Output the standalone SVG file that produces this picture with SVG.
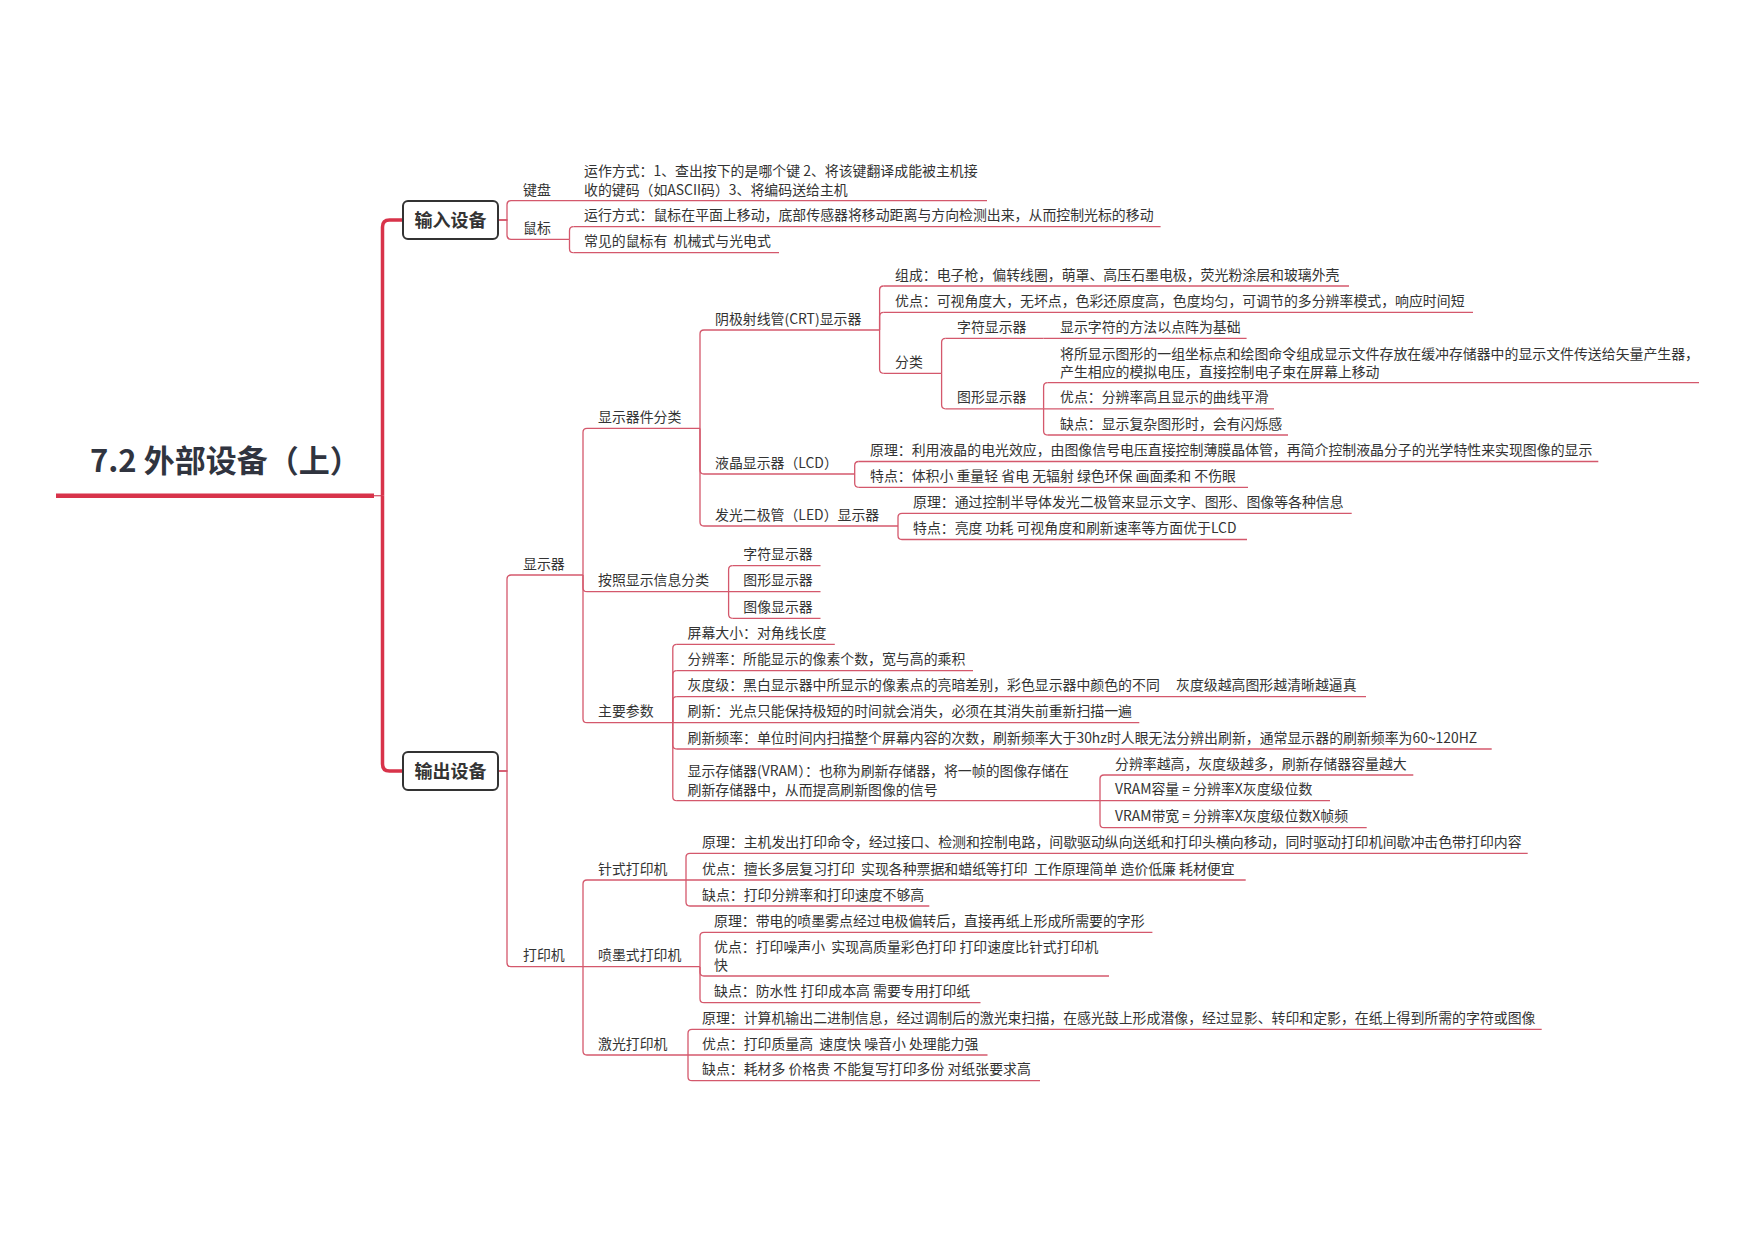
<svg xmlns="http://www.w3.org/2000/svg" width="1755" height="1240" viewBox="0 0 1755 1240">
<style>
.t{font-family:"Noto Sans CJK SC","Noto Sans",sans-serif;font-size:13.9px;fill:#333;white-space:pre}
.ln{stroke:#D4586C;stroke-width:1.3;fill:none}
.trunk{stroke:#D8334A;stroke-width:3.5;fill:none}
.box{fill:#fff;stroke:#333;stroke-width:2}
.bt{font-family:"Noto Sans CJK SC","Noto Sans",sans-serif;font-size:18px;font-weight:bold;fill:#333;text-anchor:middle}
.title{font-family:"Noto Sans CJK SC","Noto Sans",sans-serif;font-size:31px;font-weight:bold;fill:#30343F;white-space:pre}
</style>
<rect width="1755" height="1240" fill="#fff"/>
<g id="connectors">
<path class="ln" d="M374 495.7H382.5"/>
<path class="trunk" d="M382.5 495.7V227Q382.5 220 389.5 220H403"/>
<path class="trunk" d="M382.5 495.7V764Q382.5 771 389.5 771H403"/>
<path class="ln" d="M498 220H507V204.7Q507 200.7 511 200.7"/>
<path class="ln" d="M498 220H507V235.3Q507 239.3 511 239.3"/>
<path class="ln" d="M569.5 239.3V230.7Q569.5 226.7 573.5 226.7"/>
<path class="ln" d="M569.5 239.3V248.7Q569.5 252.7 573.5 252.7"/>
<path class="ln" d="M498 771H507V579Q507 575 511 575"/>
<path class="ln" d="M498 771H507V962.7Q507 966.7 511 966.7"/>
<path class="ln" d="M583 575V432.3Q583 428.3 587 428.3"/>
<path class="ln" d="M583 575V587.7Q583 591.7 587 591.7"/>
<path class="ln" d="M583 575V718.7Q583 722.7 587 722.7"/>
<path class="ln" d="M700 428.3V334Q700 330 704 330"/>
<path class="ln" d="M700 428.3V470Q700 474 704 474"/>
<path class="ln" d="M700 428.3V522Q700 526 704 526"/>
<path class="ln" d="M879.6 330V290Q879.6 286 883.6 286"/>
<path class="ln" d="M879.6 330V316.3Q879.6 312.3 883.6 312.3"/>
<path class="ln" d="M879.6 330V369.3Q879.6 373.3 883.6 373.3"/>
<path class="ln" d="M941.6 373.3V342.3Q941.6 338.3 945.6 338.3"/>
<path class="ln" d="M941.6 373.3V404.8Q941.6 408.8 945.6 408.8"/>
<path class="ln" d="M1043.6 408.8V386.7Q1043.6 382.7 1047.6 382.7"/>
<path class="ln" d="M1043.6 408.8V431Q1043.6 435 1047.6 435"/>
<path class="ln" d="M854.7 474V465.5Q854.7 461.5 858.7 461.5"/>
<path class="ln" d="M854.7 474V483.3Q854.7 487.3 858.7 487.3"/>
<path class="ln" d="M898 526V517.3Q898 513.3 902 513.3"/>
<path class="ln" d="M898 526V535.5Q898 539.5 902 539.5"/>
<path class="ln" d="M728.6 591.7V569.7Q728.6 565.7 732.6 565.7"/>
<path class="ln" d="M728.6 591.7V614.3Q728.6 618.3 732.6 618.3"/>
<path class="ln" d="M672.8 722.7V648.3Q672.8 644.3 676.8 644.3"/>
<path class="ln" d="M672.8 722.7V674.7Q672.8 670.7 676.8 670.7"/>
<path class="ln" d="M672.8 722.7V700.7Q672.8 696.7 676.8 696.7"/>
<path class="ln" d="M672.8 722.7V745Q672.8 749 676.8 749"/>
<path class="ln" d="M672.8 722.7V796.7Q672.8 800.7 676.8 800.7"/>
<path class="ln" d="M1100 800.7V779Q1100 775 1104 775"/>
<path class="ln" d="M1100 800.7V823.7Q1100 827.7 1104 827.7"/>
<path class="ln" d="M583 966.7V884Q583 880 587 880"/>
<path class="ln" d="M583 966.7V1051Q583 1055 587 1055"/>
<path class="ln" d="M686 880V857.3Q686 853.3 690 853.3"/>
<path class="ln" d="M686 880V902Q686 906 690 906"/>
<path class="ln" d="M700 966.7V936.3Q700 932.3 704 932.3"/>
<path class="ln" d="M700 966.7V972Q700 976 704 976"/>
<path class="ln" d="M700 966.7V998.7Q700 1002.7 704 1002.7"/>
<path class="ln" d="M688 1055V1033.3Q688 1029.3 692 1029.3"/>
<path class="ln" d="M688 1055V1076.7Q688 1080.7 692 1080.7"/>
</g>
<g id="root"><text class="title" x="90" y="472">7.2 外部设备（上）</text><line x1="56" y1="495.7" x2="374" y2="495.7" stroke="#D8334A" stroke-width="4.5"/></g>
<g id="n-in"><rect class="box" x="403" y="201" width="95" height="38" rx="5"/><text class="bt" x="450.5" y="226.5">输入设备</text></g>
<g id="n-out"><rect class="box" x="403" y="752" width="95" height="38" rx="5"/><text class="bt" x="450.5" y="777.5">输出设备</text></g>
<g id="kb"><text class="t" x="523" y="194.5">键盘</text><line class="ln" x1="511" y1="200.7" x2="570" y2="200.7"/></g>
<g id="kb1"><text class="t" x="584" y="176">运作方式：1、查出按下的是哪个键 2、将该键翻译成能被主机接</text><text class="t" x="584" y="194.5">收的键码（如ASCII码）3、将编码送给主机</text><line class="ln" x1="570" y1="200.7" x2="987" y2="200.7"/></g>
<g id="ms"><text class="t" x="523" y="233">鼠标</text><line class="ln" x1="511" y1="239.3" x2="569.5" y2="239.3"/></g>
<g id="ms1"><text class="t" x="584" y="220.2">运行方式：鼠标在平面上移动，底部传感器将移动距离与方向检测出来，从而控制光标的移动</text><line class="ln" x1="573.5" y1="226.7" x2="1160.6" y2="226.7"/></g>
<g id="ms2"><text class="t" x="584" y="246.2">常见的鼠标有  机械式与光电式</text><line class="ln" x1="573.5" y1="252.7" x2="779" y2="252.7"/></g>
<g id="disp"><text class="t" x="523" y="568.5">显示器</text><line class="ln" x1="511" y1="575" x2="583" y2="575"/></g>
<g id="d1"><text class="t" x="598" y="421.8">显示器件分类</text><line class="ln" x1="587" y1="428.3" x2="700" y2="428.3"/></g>
<g id="crt"><text class="t" x="715" y="323.5">阴极射线管(CRT)显示器</text><line class="ln" x1="704" y1="330" x2="879.6" y2="330"/></g>
<g id="crt1"><text class="t" x="895" y="279.5">组成：电子枪，偏转线圈，萌罩、高压石墨电极，荧光粉涂层和玻璃外壳</text><line class="ln" x1="883.6" y1="286" x2="1349" y2="286"/></g>
<g id="crt2"><text class="t" x="895" y="305.8">优点：可视角度大，无坏点，色彩还原度高，色度均匀，可调节的多分辨率模式，响应时间短</text><line class="ln" x1="883.6" y1="312.3" x2="1473" y2="312.3"/></g>
<g id="crt3"><text class="t" x="895" y="366.8">分类</text><line class="ln" x1="883.6" y1="373.3" x2="941.6" y2="373.3"/></g>
<g id="cs"><text class="t" x="957" y="331.8">字符显示器</text><line class="ln" x1="945.6" y1="338.3" x2="1043.6" y2="338.3"/></g>
<g id="cs1"><text class="t" x="1060" y="331.8">显示字符的方法以点阵为基础</text><line class="ln" x1="1043.6" y1="338.3" x2="1246.6" y2="338.3"/></g>
<g id="cg"><text class="t" x="957" y="402.3">图形显示器</text><line class="ln" x1="945.6" y1="408.8" x2="1043.6" y2="408.8"/></g>
<g id="cg1"><text class="t" x="1060" y="358.6">将所显示图形的一组坐标点和绘图命令组成显示文件存放在缓冲存储器中的显示文件传送给矢量产生器，</text><text class="t" x="1060" y="377">产生相应的模拟电压，直接控制电子束在屏幕上移动</text><line class="ln" x1="1047.6" y1="382.7" x2="1699" y2="382.7"/></g>
<g id="cg2"><text class="t" x="1060" y="402.3">优点：分辨率高且显示的曲线平滑</text><line class="ln" x1="1043.6" y1="408.8" x2="1274" y2="408.8"/></g>
<g id="cg3"><text class="t" x="1060" y="428.5">缺点：显示复杂图形时，会有闪烁感</text><line class="ln" x1="1047.6" y1="435" x2="1288" y2="435"/></g>
<g id="lcd"><text class="t" x="715" y="467.5">液晶显示器（LCD）</text><line class="ln" x1="704" y1="474" x2="854.7" y2="474"/></g>
<g id="lcd1"><text class="t" x="870" y="455">原理：利用液晶的电光效应，由图像信号电压直接控制薄膜晶体管，再简介控制液晶分子的光学特性来实现图像的显示</text><line class="ln" x1="858.7" y1="461.5" x2="1598.3" y2="461.5"/></g>
<g id="lcd2"><text class="t" x="870" y="480.8">特点：体积小 重量轻 省电 无辐射 绿色环保 画面柔和 不伤眼</text><line class="ln" x1="858.7" y1="487.3" x2="1248" y2="487.3"/></g>
<g id="led"><text class="t" x="715" y="519.5">发光二极管（LED）显示器</text><line class="ln" x1="704" y1="526" x2="898" y2="526"/></g>
<g id="led1"><text class="t" x="913" y="506.8">原理：通过控制半导体发光二极管来显示文字、图形、图像等各种信息</text><line class="ln" x1="902" y1="513.3" x2="1351.7" y2="513.3"/></g>
<g id="led2"><text class="t" x="913" y="533">特点：亮度 功耗 可视角度和刷新速率等方面优于LCD</text><line class="ln" x1="902" y1="539.5" x2="1247" y2="539.5"/></g>
<g id="d2"><text class="t" x="598" y="585.2">按照显示信息分类</text><line class="ln" x1="587" y1="591.7" x2="728.6" y2="591.7"/></g>
<g id="i1"><text class="t" x="743.3" y="559.2">字符显示器</text><line class="ln" x1="732.6" y1="565.7" x2="820.5" y2="565.7"/></g>
<g id="i2"><text class="t" x="743.3" y="585.2">图形显示器</text><line class="ln" x1="728.6" y1="591.7" x2="820.5" y2="591.7"/></g>
<g id="i3"><text class="t" x="743.3" y="611.8">图像显示器</text><line class="ln" x1="732.6" y1="618.3" x2="820.5" y2="618.3"/></g>
<g id="d3"><text class="t" x="598" y="716.2">主要参数</text><line class="ln" x1="587" y1="722.7" x2="672.8" y2="722.7"/></g>
<g id="p1"><text class="t" x="687.5" y="637.8">屏幕大小：对角线长度</text><line class="ln" x1="676.8" y1="644.3" x2="834.8" y2="644.3"/></g>
<g id="p2"><text class="t" x="687.5" y="664.2">分辨率：所能显示的像素个数，宽与高的乘积</text><line class="ln" x1="676.8" y1="670.7" x2="973" y2="670.7"/></g>
<g id="p3"><text class="t" x="687.5" y="690.2">灰度级：黑白显示器中所显示的像素点的亮暗差别，彩色显示器中颜色的不同</text><line class="ln" x1="676.8" y1="696.7" x2="1162" y2="696.7"/></g>
<g id="p3a"><text class="t" x="1176" y="690.2">灰度级越高图形越清晰越逼真</text><line class="ln" x1="1162" y1="696.7" x2="1366" y2="696.7"/></g>
<g id="p4"><text class="t" x="687.5" y="716.2">刷新：光点只能保持极短的时间就会消失，必须在其消失前重新扫描一遍</text><line class="ln" x1="672.8" y1="722.7" x2="1139.3" y2="722.7"/></g>
<g id="p5"><text class="t" x="687.5" y="742.5">刷新频率：单位时间内扫描整个屏幕内容的次数，刷新频率大于30hz时人眼无法分辨出刷新，通常显示器的刷新频率为60~120HZ</text><line class="ln" x1="676.8" y1="749" x2="1491.7" y2="749"/></g>
<g id="p6"><text class="t" x="687.5" y="776">显示存储器(VRAM）：也称为刷新存储器，将一帧的图像存储在</text><text class="t" x="687.5" y="794.6">刷新存储器中，从而提高刷新图像的信号</text><line class="ln" x1="676.8" y1="800.7" x2="1100" y2="800.7"/></g>
<g id="v1"><text class="t" x="1115" y="768.5">分辨率越高，灰度级越多，刷新存储器容量越大</text><line class="ln" x1="1104" y1="775" x2="1413.3" y2="775"/></g>
<g id="v2"><text class="t" x="1115" y="794.2">VRAM容量 = 分辨率X灰度级位数</text><line class="ln" x1="1100" y1="800.7" x2="1330" y2="800.7"/></g>
<g id="v3"><text class="t" x="1115" y="821.2">VRAM带宽 = 分辨率X灰度级位数X帧频</text><line class="ln" x1="1104" y1="827.7" x2="1366.7" y2="827.7"/></g>
<g id="prn"><text class="t" x="523" y="960.2">打印机</text><line class="ln" x1="511" y1="966.7" x2="583" y2="966.7"/></g>
<g id="z"><text class="t" x="598" y="873.5">针式打印机</text><line class="ln" x1="587" y1="880" x2="686" y2="880"/></g>
<g id="z1"><text class="t" x="702" y="846.8">原理：主机发出打印命令，经过接口、检测和控制电路，间歇驱动纵向送纸和打印头横向移动，同时驱动打印机间歇冲击色带打印内容</text><line class="ln" x1="690" y1="853.3" x2="1527.7" y2="853.3"/></g>
<g id="z2"><text class="t" x="702" y="873.5">优点：擅长多层复习打印  实现各种票据和蜡纸等打印  工作原理简单 造价低廉 耗材便宜</text><line class="ln" x1="686" y1="880" x2="1245.7" y2="880"/></g>
<g id="z3"><text class="t" x="702" y="899.5">缺点：打印分辨率和打印速度不够高</text><line class="ln" x1="690" y1="906" x2="929.3" y2="906"/></g>
<g id="y"><text class="t" x="598" y="960.2">喷墨式打印机</text><line class="ln" x1="583" y1="966.7" x2="700" y2="966.7"/></g>
<g id="y1"><text class="t" x="714" y="925.8">原理：带电的喷墨雾点经过电极偏转后，直接再纸上形成所需要的字形</text><line class="ln" x1="704" y1="932.3" x2="1152.4" y2="932.3"/></g>
<g id="y2"><text class="t" x="714" y="952">优点：打印噪声小  实现高质量彩色打印 打印速度比针式打印机</text><text class="t" x="714" y="970.4">快</text><line class="ln" x1="704" y1="976" x2="1109" y2="976"/></g>
<g id="y3"><text class="t" x="714" y="996.2">缺点：防水性 打印成本高 需要专用打印纸</text><line class="ln" x1="704" y1="1002.7" x2="980.5" y2="1002.7"/></g>
<g id="j"><text class="t" x="598" y="1048.5">激光打印机</text><line class="ln" x1="587" y1="1055" x2="688" y2="1055"/></g>
<g id="j1"><text class="t" x="702" y="1022.8">原理：计算机输出二进制信息，经过调制后的激光束扫描，在感光鼓上形成潜像，经过显影、转印和定影，在纸上得到所需的字符或图像</text><line class="ln" x1="692" y1="1029.3" x2="1541.7" y2="1029.3"/></g>
<g id="j2"><text class="t" x="702" y="1048.5">优点：打印质量高  速度快 噪音小 处理能力强</text><line class="ln" x1="688" y1="1055" x2="987.5" y2="1055"/></g>
<g id="j3"><text class="t" x="702" y="1074.2">缺点：耗材多 价格贵 不能复写打印多份 对纸张要求高</text><line class="ln" x1="692" y1="1080.7" x2="1040" y2="1080.7"/></g>
</svg>
